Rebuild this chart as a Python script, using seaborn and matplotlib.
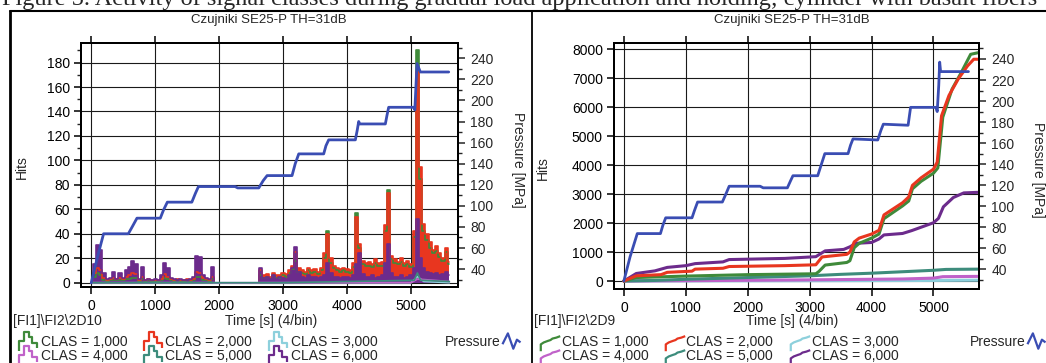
import numpy as np
import pandas as pd
import matplotlib
matplotlib.use("Agg")
import matplotlib.pyplot as plt
import seaborn as sns
from matplotlib.lines import Line2D
from matplotlib.path import Path
from matplotlib.ticker import MultipleLocator

# ---------------- data ----------------
# left panel: hits per bin, sampled every 50 s from 0 to 5600 s
hits_clas6 = [0, 15, 31, 27, 8, 3, 4, 9, 3, 8, 4, 10, 13, 18, 15, 3, 13, 2, 3, 2,
              3, 2, 6, 16, 12, 4, 3, 2, 3, 2, 2, 3, 5, 22, 21, 6, 4, 3, 13, 0,
              0, 0, 0, 0, 0, 0, 0, 0, 0, 0, 0, 0, 0, 12, 4, 5, 3, 6, 3, 5,
              4, 3, 6, 12, 29, 9, 5, 4, 6, 5, 5, 4, 5, 6, 16, 8, 5, 5, 4, 5,
              5, 4, 6, 15, 24, 7, 5, 5, 6, 4, 5, 6, 16, 32, 8, 5, 5, 6, 4, 5,
              6, 12, 52, 20, 12, 9, 8, 7, 8, 6, 7, 9, 6]
hits_clas2 = [0, 8, 12, 10, 4, 2, 3, 4, 3, 4, 3, 5, 6, 8, 7, 2, 5, 2, 3, 2,
              2, 2, 3, 7, 5, 3, 2, 3, 2, 2, 3, 2, 3, 9, 8, 4, 3, 2, 5, 0,
              0, 0, 0, 0, 0, 0, 0, 0, 0, 0, 0, 0, 0, 10, 6, 7, 5, 8, 6, 6,
              8, 7, 10, 14, 25, 12, 10, 9, 12, 10, 11, 9, 12, 24, 40, 20, 14, 12, 11, 12,
              11, 10, 16, 54, 32, 18, 16, 17, 15, 19, 16, 17, 47, 73, 22, 19, 17, 20, 16, 18,
              15, 42, 172, 95, 48, 40, 33, 27, 30, 24, 20, 28, 17]
hits_clas1 = [0, 5, 8, 6, 2, 1, 2, 2, 2, 2, 2, 3, 3, 4, 4, 1, 3, 1, 2, 1,
              1, 1, 2, 4, 3, 2, 1, 2, 1, 1, 2, 1, 2, 5, 5, 2, 2, 1, 3, 0,
              0, 0, 0, 0, 0, 0, 0, 0, 0, 0, 0, 0, 0, 6, 4, 5, 4, 6, 4, 4,
              6, 5, 8, 11, 18, 9, 8, 7, 10, 8, 9, 7, 10, 20, 42, 16, 12, 10, 9, 10,
              9, 8, 13, 57, 28, 15, 14, 14, 13, 16, 14, 14, 42, 76, 19, 16, 15, 17, 14, 15,
              13, 37, 190, 85, 42, 35, 28, 24, 26, 21, 18, 25, 15]
bin_step = 50

# minor classes in the left panel (sparse points)
hits_clas3_t = [0, 5000, 5100, 5200, 5600]
hits_clas3 = [0, 0, 5, 1, 0]
hits_clas4_t = [0, 5000, 5100, 5600]
hits_clas4 = [0, 0, 3, 1]
hits_clas5_t = [0, 3000, 5050, 5100, 5150, 5600]
hits_clas5 = [0, 0, 2, 8, 2, 1]

# left panel pressure
press_l_t = [0, 100, 193, 580, 640, 715, 1080, 1130, 1190, 1573, 1630, 1677,
             2250, 2290, 2620, 2690, 2750, 3140, 3190, 3245, 3635, 3670, 3713,
             4130, 4160, 4182, 4200, 4599, 4625, 4651, 5042, 5060, 5094, 5146, 5590]
press_l = [27, 52, 73.5, 73.5, 80, 88.3, 88.3, 96, 103.5, 103.5, 112, 118.3,
           118.3, 117, 117, 124, 128.7, 128.7, 140, 149.3, 149.3, 157, 162.6,
           162.6, 172, 180, 177.7, 177.7, 186, 193.5, 193.5, 191, 235, 227, 227]

# right panel: cumulative hits
cum1_t = [0, 200, 1000, 2000, 3100, 3150, 3250, 3600, 3650, 3720, 3800, 4000, 4120,
          4200, 4500, 4600, 4660, 4800, 5000, 5070, 5150, 5300, 5450, 5600, 5730]
cum1 = [0, 120, 170, 220, 250, 330, 550, 640, 700, 1150, 1300, 1480, 1620,
        2150, 2590, 2760, 3180, 3440, 3720, 3900, 5650, 6620, 7200, 7820, 7880]
cum2_t = [0, 200, 600, 700, 1100, 1150, 1600, 1700, 2600, 3100, 3200, 3600, 3650, 3720,
          3800, 4000, 4120, 4200, 4500, 4600, 4660, 4800, 5000, 5060, 5130, 5250,
          5400, 5550, 5650, 5730]
cum2 = [0, 180, 220, 300, 340, 410, 440, 500, 530, 560, 830, 920, 1000, 1350,
        1480, 1620, 1750, 2280, 2700, 2900, 3300, 3560, 3860, 4100, 5700, 6400,
        6970, 7420, 7650, 7650]
cum3_t = [0, 3000, 5000, 5730]
cum3 = [0, 10, 20, 30]
cum4_t = [0, 1000, 3000, 4500, 5000, 5150, 5730]
cum4 = [0, 10, 40, 70, 100, 150, 160]
cum5_t = [0, 500, 1000, 2000, 3000, 3500, 4000, 4500, 5000, 5200, 5730]
cum5 = [0, 20, 60, 120, 180, 230, 270, 320, 370, 400, 410]
cum6_t = [0, 200, 500, 700, 1000, 1150, 1600, 1700, 2600, 3100, 3250, 3550, 3650,
          3750, 4000, 4120, 4200, 4500, 4650, 5000, 5080, 5160, 5320, 5490, 5730]
cum6 = [0, 260, 350, 470, 530, 600, 660, 740, 780, 840, 1040, 1090, 1180,
        1300, 1330, 1450, 1590, 1640, 1740, 2010, 2160, 2560, 2880, 3040, 3060]

# right panel pressure
press_r_t = [0, 100, 216, 590, 630, 675, 1100, 1140, 1190, 1590, 1650, 1700, 2200, 2250,
             2640, 2690, 2730, 3130, 3190, 3245, 3620, 3660, 3700, 4100, 4150, 4190,
             4590, 4630, 5040, 5060, 5085, 5100, 5115, 5565]
press_r = [29, 52, 74, 74, 82, 89, 89, 96, 104, 104, 112, 119, 119, 117.5,
           117.5, 124, 129, 129, 140, 150, 150, 158, 164, 163, 172, 178,
           177, 194, 194, 190, 215, 237, 228, 228]

class_labels = ["CLAS = 1,000", "CLAS = 2,000", "CLAS = 3,000",
                "CLAS = 4,000", "CLAS = 5,000", "CLAS = 6,000"]
class_colors = ["#3f8a3a", "#e8361f", "#8dd0dc", "#c062c9", "#3d8c7c", "#6c2b8c"]
blue = "#3a4db3"

# ---------------- style ----------------
sns.set_style("ticks")
plt.rcParams["font.family"] = ["Liberation Sans", "DejaVu Sans"]
plt.rcParams["axes.linewidth"] = 1.4

W, H = 1046, 363
fig = plt.figure(figsize=(W / 100, H / 100), dpi=100)


def fx(px):
    return px / W


def fy(py):
    return 1 - py / H


def style_axes(ax, ax2, ylim, ymaj, ymin):
    ax.set_xlim(-160, 5735)
    ax.set_ylim(*ylim)
    ax.xaxis.set_major_locator(MultipleLocator(1000))
    ax.yaxis.set_major_locator(MultipleLocator(ymaj))
    if ymin:
        ax.yaxis.set_minor_locator(MultipleLocator(ymin))
    ax.grid(True, which="major", color="#1a1a1a", lw=0.8)
    ax.set_axisbelow(True)
    ax.tick_params(axis="both", which="major", direction="out", length=5,
                   width=1.1, labelsize=10, pad=3, colors="black")
    ax.tick_params(axis="x", top=True, pad=4)
    ax.tick_params(axis="y", which="minor", direction="out", length=3, width=1)
    ax.set_xlabel("")
    ax.set_ylabel("")
    ax2.set_ylim(23, 254.5)
    ax2.yaxis.set_minor_locator(MultipleLocator(10))
    ax2.set_yticks(np.arange(40, 241, 20))
    ax2.tick_params(axis="y", which="major", direction="out", length=5,
                    width=1.1, labelsize=10, pad=4)
    ax2.tick_params(axis="y", which="minor", direction="out", length=3, width=1)
    ax2.set_ylabel("")
    for a in (ax, ax2):
        for s in a.spines.values():
            s.set_visible(True)
            s.set_linewidth(1.4)
            s.set_color("black")


# legend icons, drawn as open paths in [-1, 1]
def step_icon():
    v = [(-1, -1), (-1, 0), (-0.55, 0), (-0.55, 0.9), (-0.05, 0.9), (-0.05, 0.4),
         (0.35, 0.4), (0.35, -0.2), (0.8, -0.2), (0.8, -0.7)]
    return Path(v)


def curve_icon():
    v = [(-1, -1), (-1, -0.3), (-0.7, -0.1), (-0.3, 0.05), (0, 0.15), (0.2, 0.3),
         (0.6, 0.4), (1.0, 0.55)]
    return Path(v)


def wave_icon():
    v = [(-1, -0.3), (-0.4, 0.9), (0.2, -0.8), (0.6, 0.2), (1.0, -0.1)]
    return Path(v)


def add_legend(x_left, x_press_right, icon, name):
    order = [0, 3, 1, 4, 2, 5]
    handles = [Line2D([], [], ls="none", marker=icon, markersize=14,
                      markerfacecolor="none", markeredgecolor=class_colors[i],
                      markeredgewidth=1.6) for i in order]
    labels = [class_labels[i] for i in order]
    fig.legend(handles, labels, ncol=3, loc="upper left",
               bbox_to_anchor=(fx(x_left), fy(334.5)), frameon=False, fontsize=10,
               handlelength=1.4, handletextpad=0.15, columnspacing=1.2,
               labelspacing=0.05, borderpad=0, borderaxespad=0, numpoints=1)
    ph = Line2D([], [], ls="none", marker=wave_icon(), markersize=13,
                markerfacecolor="none", markeredgecolor=blue, markeredgewidth=1.6)
    fig.legend([ph], ["Pressure"], loc="upper right", markerfirst=False,
               bbox_to_anchor=(fx(x_press_right), fy(334.5)), frameon=False,
               fontsize=10, handlelength=1.2, handletextpad=0.1, borderpad=0,
               borderaxespad=0, numpoints=1)
    fig.text(fx(x_left - 6), fy(321.5), name, fontsize=10, va="center", ha="left")


# ---------------- left panel ----------------
axL = fig.add_axes([fx(81), fy(287), fx(458 - 81), (287 - 43) / H])
axL2 = axL.twinx()

t_bins = np.arange(len(hits_clas6)) * bin_step
left_df = pd.DataFrame({"t": t_bins, "c1": hits_clas1, "c2": hits_clas2, "c6": hits_clas6})
for col, c in [("c1", class_colors[0]), ("c2", class_colors[1]), ("c6", class_colors[5])]:
    axL.fill_between(left_df["t"], left_df[col], step="mid", color=c, lw=0)
    sns.lineplot(data=left_df, x="t", y=col, ax=axL, color=c, lw=1.2,
                 drawstyle="steps-mid", estimator=None, sort=False)
for tt, vv, c in [(hits_clas3_t, hits_clas3, class_colors[2]),
                  (hits_clas4_t, hits_clas4, class_colors[3]),
                  (hits_clas5_t, hits_clas5, class_colors[4])]:
    sns.lineplot(x=tt, y=vv, ax=axL, color=c, lw=1.2, estimator=None, sort=False)

sns.lineplot(x=press_l_t, y=press_l, ax=axL2, color=blue, lw=2.0,
             estimator=None, sort=False)
style_axes(axL, axL2, (-3.5, 196), 20, 10)

# ---------------- right panel ----------------
axR = fig.add_axes([fx(614), fy(288.7), fx(979 - 614), (288.7 - 43.3) / H])
axR2 = axR.twinx()
cum_series = [(cum1_t, cum1), (cum2_t, cum2), (cum3_t, cum3),
              (cum4_t, cum4), (cum5_t, cum5), (cum6_t, cum6)]
for k in [2, 3, 4, 5, 0, 1]:
    tt, vv = cum_series[k]
    sns.lineplot(x=tt, y=vv, ax=axR, color=class_colors[k], lw=2.2,
                 estimator=None, sort=False)
sns.lineplot(x=press_r_t, y=press_r, ax=axR2, color=blue, lw=2.0,
             estimator=None, sort=False)
style_axes(axR, axR2, (-265, 8200), 1000, None)
axR2.set_ylim(21.6, 254.9)

# ---------------- texts ----------------
title = "Czujniki SE25-P TH=31dB"
fig.text(fx(269), fy(20), title, fontsize=9.5, ha="center", va="center")
fig.text(fx(792), fy(20), title, fontsize=9.5, ha="center", va="center")
for x, y in [(22, 167), (543, 168)]:
    fig.text(fx(x), fy(y), "Hits", fontsize=10, rotation=90, ha="center", va="center")
for x, y in [(518, 160), (1038, 170)]:
    fig.text(fx(x), fy(y), "Pressure [MPa]", fontsize=10, rotation=270,
             ha="center", va="center")
for x in [271, 792]:
    fig.text(fx(x), fy(321.5), "Time [s] (4/bin)", fontsize=10, ha="center", va="center")

add_legend(19, 519, step_icon(), "[FI1]\\FI2\\2D10")
add_legend(540, 1044, curve_icon(), "[FI1]\\FI2\\2D9")

caption = ("Figure 5. Activity of signal classes during gradual load application "
           "and holding; cylinder with basalt fibers")
fig.text(fx(2), fy(4.5), caption, fontsize=17.5, family="Liberation Serif",
         ha="left", va="baseline")

# frame lines
fig.add_artist(Line2D([fx(10), 1], [fy(11), fy(11)], transform=fig.transFigure,
                      color="black", lw=1.5))
fig.add_artist(Line2D([fx(10), fx(10)], [fy(11), 0], transform=fig.transFigure,
                      color="black", lw=2.0))
fig.add_artist(Line2D([fx(532), fx(532)], [fy(11), 0], transform=fig.transFigure,
                      color="black", lw=1.3))

fig.savefig("out.png", dpi=100)
